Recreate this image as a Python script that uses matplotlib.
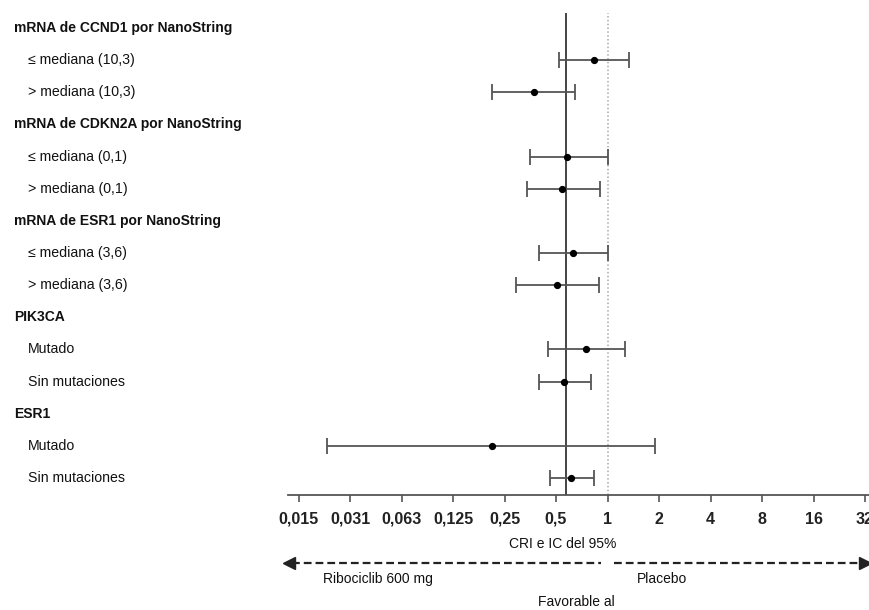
import numpy as np
import matplotlib
matplotlib.use("Agg")
import matplotlib.pyplot as plt
from matplotlib.lines import Line2D
from matplotlib.transforms import blended_transform_factory

plt.rcParams['font.family'] = ['Liberation Sans', 'DejaVu Sans']

# ---- data ----
row_labels = ["mRNA de CCND1 por NanoString", "≤ mediana (10,3)", "> mediana (10,3)",
              "mRNA de CDKN2A por NanoString", "≤ mediana (0,1)", "> mediana (0,1)",
              "mRNA de ESR1 por NanoString", "≤ mediana (3,6)", "> mediana (3,6)",
              "PIK3CA", "Mutado", "Sin mutaciones",
              "ESR1", "Mutado", "Sin mutaciones"]
is_header = [True, False, False, True, False, False, True, False, False,
             True, False, False, True, False, False]
hr =    [None, 0.83, 0.37, None, 0.58, 0.54, None, 0.63, 0.51, None, 0.75, 0.56, None, 0.21, 0.61]
ci_lo = [None, 0.52, 0.21, None, 0.35, 0.34, None, 0.40, 0.29, None, 0.45, 0.40, None, 0.023, 0.46]
ci_hi = [None, 1.33, 0.65, None, 1.00, 0.90, None, 1.01, 0.89, None, 1.26, 0.80, None, 1.89, 0.83]
overall_hr = 0.57
tick_vals = [2.0**k for k in range(-6, 6)]
tick_labels = ["0,015", "0,031", "0,063", "0,125", "0,25", "0,5", "1", "2", "4", "8", "16", "32"]

W, H = 870, 610
fig = plt.figure(figsize=(W/100, H/100), dpi=100)
ax = fig.add_axes([288/W, 1-495/H, 1-288/W, (495-13)/H])

ax.set_xscale('log', base=2)
ax.set_xlim(2**(-6.204), 2**(5.097))
ax.set_ylim(14 + 17/32.14, -15/32.14)

for i, (h, lo, hi) in enumerate(zip(hr, ci_lo, ci_hi)):
    if h is None:
        continue
    ax.errorbar([h], [i], xerr=[[h-lo], [hi-h]], fmt='o', color='#333333',
                ecolor='#555555', elinewidth=1.3, capsize=5.8, capthick=1.3,
                markersize=4.2, markerfacecolor='black', markeredgecolor='black', zorder=3)

ax.axvline(overall_hr, color='#444444', lw=1.4, zorder=2)
ax.axvline(1.0, color='#aaaaaa', lw=1.1, ls=(0, (1, 1.5)), zorder=1)

for s in ['top', 'right', 'left']:
    ax.spines[s].set_visible(False)
ax.spines['bottom'].set_color('#555555')
ax.spines['bottom'].set_linewidth(1.3)
ax.set_yticks([])
ax.set_xticks(tick_vals)
ax.set_xticklabels(tick_labels, fontsize=11.5, fontweight='bold', color='#222222')
ax.xaxis.set_minor_locator(matplotlib.ticker.NullLocator())
ax.tick_params(axis='x', direction='out', length=5, width=1.2, color='#555555', pad=7)

trans = blended_transform_factory(fig.transFigure, ax.transData)
for i, (lab, hd) in enumerate(zip(row_labels, is_header)):
    if hd:
        ax.text(14/W, i, lab, transform=trans, fontsize=10, fontweight='bold',
                va='center', ha='left', color='#111111')
    else:
        ax.text(28/W, i, lab, transform=trans, fontsize=10.2,
                va='center', ha='left', color='#111111')

# bottom annotations
fig.text(563/W, 1-544/H, "CRI e IC del 95%", ha='center', va='center', fontsize=10, color='#111111')
fig.text(323/W, 1-579/H, "Ribociclib 600 mg", ha='left', va='center', fontsize=10, color='#111111')
fig.text(637/W, 1-579/H, "Placebo", ha='left', va='center', fontsize=10, color='#111111')
fig.text(576/W, 1-602/H, "Favorable al", ha='center', va='center', fontsize=10, color='#111111')

ya = 1-563/H
fig.add_artist(Line2D([292/W, 601/W], [ya, ya], transform=fig.transFigure,
                      color='#222222', lw=1.6, ls=(0, (3.5, 1.8))))
fig.add_artist(Line2D([614/W, 862/W], [ya, ya], transform=fig.transFigure,
                      color='#222222', lw=1.6, ls=(0, (3.5, 1.8))))
fig.add_artist(Line2D([289/W], [ya], transform=fig.transFigure, marker='<',
                      markersize=8, color='#222222', ls='none'))
fig.add_artist(Line2D([865/W], [ya], transform=fig.transFigure, marker='>',
                      markersize=8, color='#222222', ls='none'))

fig.savefig("out.png", dpi=100)
